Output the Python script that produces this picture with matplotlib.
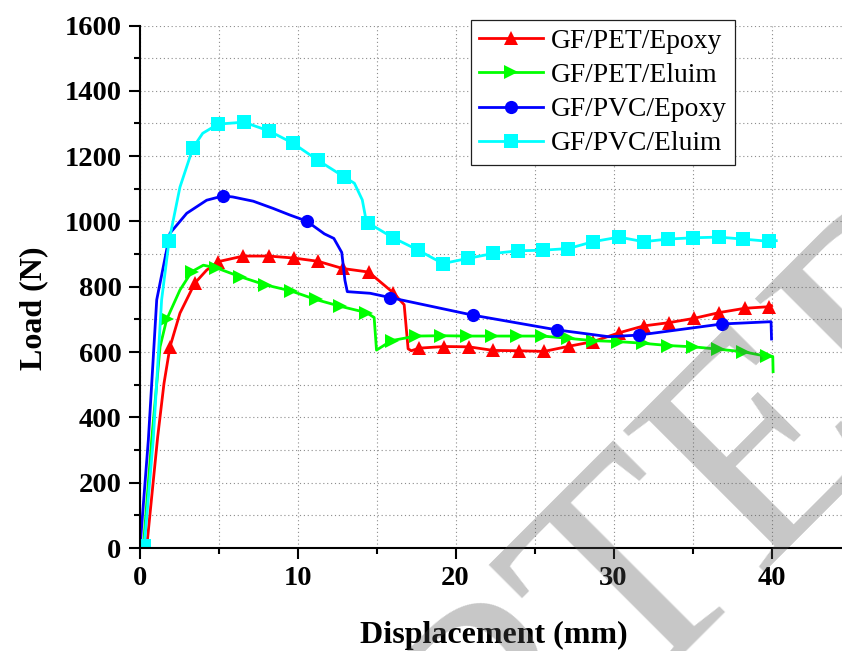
import matplotlib
matplotlib.use("Agg")
import matplotlib.pyplot as plt
from matplotlib.ticker import MultipleLocator

plt.rcParams["font.family"] = ["Liberation Serif", "DejaVu Serif"]

# GF/PET/Epoxy
pet_epoxy_x = [0.45, 1.15, 1.55, 1.93, 2.56, 3.5, 4.25, 4.99, 6.57, 8.17, 9.75, 11.3,
               12.85, 14.5, 16.05, 16.75, 17.0, 17.2, 17.7, 19.3, 20.85, 22.4, 24.0,
               25.6, 27.2, 28.7, 30.35, 31.9, 33.5, 35.07, 36.7, 38.3, 39.85, 40.0]
pet_epoxy_y = [0, 340, 504, 616, 719, 811, 851, 877, 894, 894, 888, 878,
               856, 845, 782, 745, 610, 604, 612, 617, 616, 605, 604,
               602, 618, 632, 659, 680, 690, 703, 721, 734, 739, 742]
pet_epoxy_marks = [3, 5] + list(range(7, 15)) + list(range(18, 33))

# GF/PET/Eluim
pet_eluim_x = [0.24, 0.77, 1.3, 1.72, 2.56, 3.3, 4.04, 4.85, 6.36, 7.95, 9.6, 11.15,
               12.72, 14.35, 14.85, 15.0, 15.95, 17.5, 19.1, 20.7, 22.3, 23.9, 25.5,
               27.15, 28.7, 30.3, 31.85, 33.45, 35.05, 36.6, 38.2, 39.7, 40.08, 40.1]
pet_eluim_y = [0, 331, 616, 700, 790, 846, 866, 858, 831, 806, 787, 761,
               740, 721, 706, 606, 635, 649, 650, 649, 649, 649, 649,
               642, 635, 632, 627, 620, 616, 609, 601, 587, 586, 540]
pet_eluim_marks = [3, 5] + list(range(7, 14)) + list(range(16, 32))

# GF/PVC/Epoxy
pvc_epoxy_x = [0.03, 0.56, 1.09, 1.93, 2.99, 4.25, 5.28, 5.9, 7.2, 8.45, 9.5, 10.58,
               11.7, 12.3, 12.8, 13.0, 13.15, 14.6, 15.85, 21.1, 26.4, 29.7, 31.6,
               36.86, 39.97, 40.0]
pvc_epoxy_y = [0, 331, 760, 964, 1025, 1065, 1078, 1075, 1062, 1040, 1020, 1001,
               962, 948, 905, 820, 785, 780, 767, 713, 668, 647, 652,
               686, 693, 640]
pvc_epoxy_marks = [6, 11, 18, 19, 20, 22, 23]

# GF/PVC/Eluim
pvc_eluim_x = [0.3, 0.87, 1.4, 1.87, 2.56, 3.38, 4.0, 4.97, 6.61, 8.2, 9.7, 11.27,
               12.93, 13.6, 14.1, 14.3, 14.45, 16.05, 17.6, 19.2, 20.8, 22.4, 23.95,
               25.55, 27.15, 28.7, 30.35, 31.9, 33.45, 35.05, 36.65, 38.2, 39.85, 40.3]
pvc_eluim_y = [5, 331, 760, 940, 1105, 1225, 1270, 1298, 1304, 1277, 1240, 1188,
               1137, 1117, 1066, 1014, 996, 950, 913, 871, 887, 902, 910,
               912, 917, 938, 952, 938, 946, 950, 952, 946, 939, 941]
pvc_eluim_marks = [0, 3, 5, 7, 8, 9, 10, 11, 12] + list(range(16, 33))

series = [
    ("GF/PET/Epoxy", pet_epoxy_x, pet_epoxy_y, pet_epoxy_marks, "#ff0000", "^"),
    ("GF/PET/Eluim", pet_eluim_x, pet_eluim_y, pet_eluim_marks, "#00ff00", ">"),
    ("GF/PVC/Epoxy", pvc_epoxy_x, pvc_epoxy_y, pvc_epoxy_marks, "#0000ff", "o"),
    ("GF/PVC/Eluim", pvc_eluim_x, pvc_eluim_y, pvc_eluim_marks, "#00ffff", "s"),
]

fig = plt.figure(figsize=(8.42, 6.51), dpi=100)
ax = fig.add_axes([139.5 / 842, 103 / 651, 702.5 / 842, 522.5 / 651])

for label, x, y, marks, color, marker in series:
    ax.plot(x, y, "-", color=color, lw=2.0, marker=marker, markersize=9.5,
            markevery=marks, markeredgewidth=0, label=label)

ax.set_xlim(0, 44.46)
ax.set_ylim(0, 1600)
ax.xaxis.set_major_locator(MultipleLocator(10))
ax.xaxis.set_minor_locator(MultipleLocator(5))
ax.yaxis.set_major_locator(MultipleLocator(200))
ax.yaxis.set_minor_locator(MultipleLocator(100))

for side in ("top", "right"):
    ax.spines[side].set_visible(False)
for side in ("left", "bottom"):
    ax.spines[side].set_linewidth(1.5)

ax.tick_params(which="major", direction="out", length=8, width=1.5, pad=5,
               labelsize=20.5)
ax.tick_params(which="minor", direction="out", length=4.5, width=1.5)
for lab in ax.get_xticklabels() + ax.get_yticklabels():
    lab.set_fontweight("bold")

ax.grid(True, which="both", color="#8c8c8c", lw=0.8, ls=(0, (1, 2.5)))
ax.set_axisbelow(True)

ax.set_xlabel("Displacement (mm)", fontsize=23, fontweight="bold", va="baseline")
ax.xaxis.set_label_coords(0.505, -0.182)
ax.set_ylabel("Load (N)", fontsize=23, fontweight="bold", va="baseline")
ax.yaxis.set_label_coords(-0.14, 0.458)

leg = ax.legend(loc="upper left", bbox_to_anchor=(0.472, 1.0105), borderaxespad=0,
                fontsize=19.8, handlelength=2.3, handletextpad=0.3, borderpad=0.3,
                labelspacing=0.33, fancybox=False, framealpha=1, edgecolor="#202020")
leg.get_frame().set_linewidth(0.9)

# watermark of the source page
wm = dict(fontsize=220, color="#555555", alpha=0.33, rotation=45,
          rotation_mode="anchor", va="baseline", zorder=10)
fig.text(0.745, -0.09, "ACCEP", ha="right", **wm)
fig.text(0.745, -0.09, "TED MANUSCRIPT", ha="left", **wm)

fig.savefig("out.png", dpi=100)
